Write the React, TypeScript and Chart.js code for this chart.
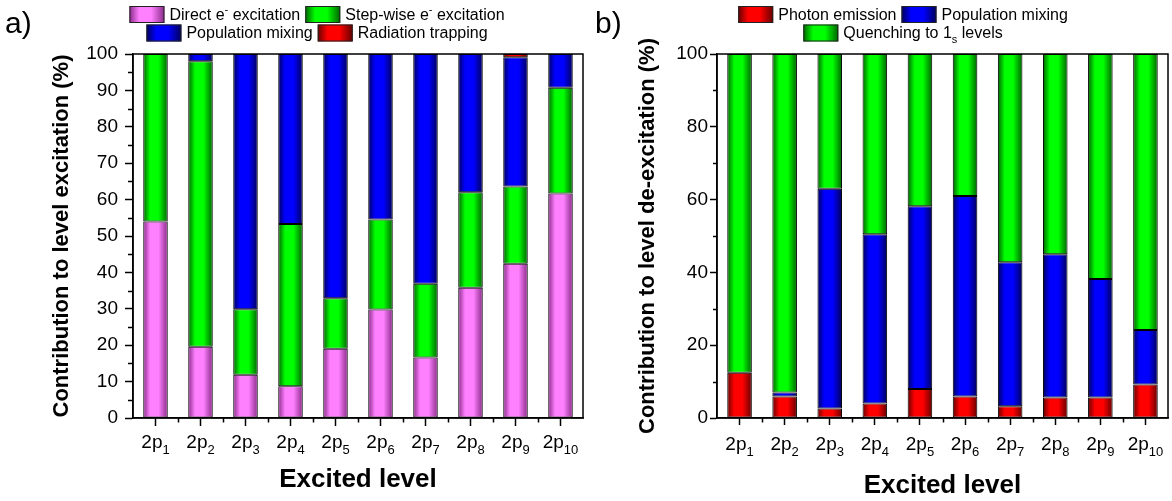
import React, { useEffect, useRef } from 'react';
import { Chart, registerables } from 'chart.js';

Chart.register(...registerables);

const FONT = '"Liberation Sans", Arial, sans-serif';

// ---------- data ----------
const categories = ['2p₁', '2p₂', '2p₃', '2p₄', '2p₅', '2p₆', '2p₇', '2p₈', '2p₉', '2p₁₀'];

// panel a) contribution to level excitation (%)
const directExc = [54.0, 19.6, 11.9, 8.7, 19.0, 29.8, 16.6, 35.8, 42.4, 61.7];
const stepwiseExc = [46.0, 78.4, 18.0, 44.6, 13.9, 24.7, 20.3, 26.2, 21.2, 29.0];
const popMixingA = [0, 2.0, 70.1, 46.7, 67.1, 45.5, 63.1, 38.0, 35.5, 9.3];
const radTrapping = [0, 0, 0, 0, 0, 0, 0, 0, 0.9, 0];

// panel b) contribution to level de-excitation (%)
const photonEmission = [12.4, 5.9, 2.6, 4.0, 8.0, 5.9, 3.2, 5.6, 5.6, 9.2];
const popMixingB = [0, 1.1, 60.4, 46.5, 50.2, 55.1, 39.6, 39.4, 32.6, 15.0];
const quenching = [87.6, 93.0, 37.0, 49.5, 41.8, 39.0, 57.2, 55.0, 61.8, 75.8];

const labelsA = ['Direct e⁻ excitation', 'Step-wise e⁻ excitation', 'Population mixing', 'Radiation trapping'];
const labelsB = ['Photon emission', 'Population mixing', 'Quenching to 1ₛ levels'];

const titleYA = 'Contribution to level excitation (%)';
const titleYB = 'Contribution to level de-excitation (%)';
const titleX = 'Excited level';

// ---------- styles ----------
const PINK = { dark: '#8a2a8a', bright: '#ff80ff' };
const GREEN = { dark: '#006400', bright: '#00ff00' };
const BLUE = { dark: '#00005a', bright: '#0000ff' };
const RED = { dark: '#640000', bright: '#ff0000' };
const BAR_FRACTION = 0.545;

const SUB: Record<string, string> = {
  '₀': '0', '₁': '1', '₂': '2', '₃': '3', '₄': '4', '₅': '5', '₆': '6', '₇': '7', '₈': '8', '₉': '9', 'ₛ': 's',
};
const SUP: Record<string, string> = { '⁻': '-' };

type Part = { kind: 'n' | 'sub' | 'sup'; t: string; w?: number };

function splitRich(text: string): Part[] {
  const parts: Part[] = [];
  let cur: Part | null = null;
  for (const ch of Array.from(text)) {
    const kind: Part['kind'] = SUB[ch] ? 'sub' : SUP[ch] ? 'sup' : 'n';
    const c = SUB[ch] || SUP[ch] || ch;
    if (cur && cur.kind === kind) cur.t += c;
    else {
      cur = { kind, t: c };
      parts.push(cur);
    }
  }
  return parts;
}

function richFont(kind: string, size: number, weight: string) {
  const s = kind === 'n' ? size : Math.round(size * 0.68);
  return `${weight} ${s}px ${FONT}`;
}

function measureRich(ctx: CanvasRenderingContext2D, text: string, size: number, weight = 'normal') {
  const parts = splitRich(text);
  let total = 0;
  for (const p of parts) {
    ctx.font = richFont(p.kind, size, weight);
    p.w = ctx.measureText(p.t).width;
    total += p.w;
  }
  return { parts, total };
}

function drawRich(
  ctx: CanvasRenderingContext2D,
  text: string,
  x: number,
  y: number,
  size: number,
  align: 'left' | 'center',
  weight = 'normal'
) {
  const { parts, total } = measureRich(ctx, text, size, weight);
  let cx = align === 'center' ? x - total / 2 : x;
  ctx.save();
  ctx.fillStyle = '#000';
  ctx.textAlign = 'left';
  ctx.textBaseline = 'alphabetic';
  for (const p of parts) {
    ctx.font = richFont(p.kind, size, weight);
    const dy = p.kind === 'sub' ? size * 0.3 : p.kind === 'sup' ? -size * 0.42 : 0;
    ctx.fillText(p.t, cx, y + dy);
    cx += p.w || 0;
  }
  ctx.restore();
  return total;
}

function hGradient(ctx: CanvasRenderingContext2D, x0: number, x1: number, dark: string, bright: string) {
  const g = ctx.createLinearGradient(x0, 0, x1, 0);
  g.addColorStop(0, dark);
  g.addColorStop(0.28, bright);
  g.addColorStop(0.62, bright);
  g.addColorStop(1, dark);
  return g;
}

function barFill(col: { dark: string; bright: string }) {
  return (c: any) => {
    const chart = c.chart;
    const xs = chart && chart.scales ? chart.scales.x : null;
    if (c.type !== 'data' || !xs || !xs.width) return col.bright;
    const cx = xs.getPixelForValue(c.dataIndex);
    const w = (xs.width / categories.length) * BAR_FRACTION;
    return hGradient(chart.ctx, cx - w / 2, cx + w / 2, col.dark, col.bright);
  };
}

type PanelSpec = {
  letter: string;
  series: { label: string; data: number[]; col: { dark: string; bright: string } }[];
  rows: number[][];
  yTitle: string;
  yStep: number;
  yMinorStep: number;
  yMinorLen: number;
  yTickLen: number;
  yTickPad: number;
  yWidth: number;
  padRight: number;
  xTickLen: number;
  xLabelBaseline: number;
  xTitlePadBottom: number;
  letterX: number;
};

const decorPlugin = {
  id: 'decor',
  afterDraw(chart: any) {
    const spec: PanelSpec = chart.options.plugins.decor.spec;
    const ctx: CanvasRenderingContext2D = chart.ctx;
    const area = chart.chartArea;
    const xs = chart.scales.x;
    const ys = chart.scales.y;
    ctx.save();
    // frame
    ctx.strokeStyle = '#000';
    ctx.lineWidth = 1.5;
    ctx.strokeRect(area.left, area.top, area.right - area.left, area.bottom - area.top);
    // minor ticks x
    ctx.lineWidth = 1.5;
    ctx.beginPath();
    for (let i = 0; i < categories.length - 1; i++) {
      const px = Math.round(xs.getPixelForValue(i + 0.5)) + 0.5;
      ctx.moveTo(px, area.bottom);
      ctx.lineTo(px, area.bottom + 4.5);
    }
    // minor ticks y
    for (let v = spec.yMinorStep; v < 100; v += spec.yStep) {
      const py = Math.round(ys.getPixelForValue(v)) + 0.5;
      ctx.moveTo(area.left, py);
      ctx.lineTo(area.left - spec.yMinorLen, py);
    }
    ctx.stroke();
    // x tick labels
    categories.forEach((lab, i) => {
      drawRich(ctx, lab, xs.getPixelForValue(i), spec.xLabelBaseline, 19, 'center');
    });
    // legend
    const rowY = [6, 24.5];
    const rowBase = [19.5, 38];
    const centerX = 317;
    spec.rows.forEach((row, r) => {
      const widths = row.map((k) => 35 + 5 + measureRich(ctx, spec.series[k].label, 16).total);
      const total = widths.reduce((a, b) => a + b, 0) + 5 * (row.length - 1);
      let x = centerX - total / 2;
      row.forEach((k, j) => {
        const s = spec.series[k];
        ctx.fillStyle = hGradient(ctx, x, x + 35, s.col.dark, s.col.bright);
        ctx.fillRect(x, rowY[r], 35, 17);
        ctx.lineWidth = 1;
        ctx.strokeStyle = '#222';
        ctx.strokeRect(x + 0.5, rowY[r] + 0.5, 34, 16);
        drawRich(ctx, s.label, x + 40, rowBase[r], 16, 'left');
        x += widths[j] + 5;
      });
    });
    // panel letter
    ctx.fillStyle = '#000';
    ctx.font = `30px ${FONT}`;
    ctx.textAlign = 'left';
    ctx.textBaseline = 'alphabetic';
    ctx.fillText(spec.letter, spec.letterX, 33);
    ctx.restore();
  },
};

function buildConfig(spec: PanelSpec): any {
  return {
    type: 'bar',
    data: {
      labels: categories,
      datasets: spec.series.map((s) => ({
        label: s.label,
        data: s.data,
        backgroundColor: barFill(s.col),
        borderColor: '#000',
        borderWidth: 1,
        borderSkipped: false,
        categoryPercentage: 1,
        barPercentage: BAR_FRACTION,
      })),
    },
    options: {
      responsive: false,
      animation: false,
      devicePixelRatio: 1,
      layout: { padding: { top: 54, right: spec.padRight, bottom: 0, left: 0 } },
      plugins: {
        legend: { display: false },
        tooltip: { enabled: false },
        decor: { spec },
      },
      scales: {
        x: {
          stacked: true,
          offset: true,
          afterFit: (s: any) => {
            s.height = 83;
          },
          grid: {
            offset: false,
            drawOnChartArea: false,
            drawTicks: true,
            tickLength: spec.xTickLen,
            tickWidth: 1.5,
            tickColor: '#000',
          },
          border: { display: true, color: '#000', width: 1.5 },
          ticks: { display: false },
          title: {
            display: true,
            text: titleX,
            color: '#000',
            font: { family: FONT, size: 26, weight: 'bold' },
            padding: { top: 0, bottom: spec.xTitlePadBottom },
          },
        },
        y: {
          stacked: true,
          min: 0,
          max: 100,
          afterFit: (s: any) => {
            s.width = spec.yWidth;
          },
          grid: {
            drawOnChartArea: false,
            drawTicks: true,
            tickLength: spec.yTickLen,
            tickWidth: 1.5,
            tickColor: '#000',
          },
          border: { display: true, color: '#000', width: 1.5 },
          ticks: {
            stepSize: spec.yStep,
            color: '#000',
            padding: spec.yTickPad,
            font: { family: FONT, size: 19 },
          },
          title: {
            display: true,
            text: spec.yTitle,
            color: '#000',
            font: { family: FONT, size: 22, weight: 'bold' },
            padding: { top: 49, bottom: 0 },
          },
        },
      },
    },
    plugins: [decorPlugin],
  };
}

const specA: PanelSpec = {
  letter: 'a)',
  series: [
    { label: labelsA[0], data: directExc, col: PINK },
    { label: labelsA[1], data: stepwiseExc, col: GREEN },
    { label: labelsA[2], data: popMixingA, col: BLUE },
    { label: labelsA[3], data: radTrapping, col: RED },
  ],
  rows: [
    [0, 1],
    [2, 3],
  ],
  yTitle: titleYA,
  yStep: 10,
  yMinorStep: 5,
  yMinorLen: 5,
  yTickLen: 8,
  yTickPad: 7,
  yWidth: 133,
  padRight: 3,
  xTickLen: 8,
  xLabelBaseline: 448,
  xTitlePadBottom: 6,
  letterX: 5,
};

const specB: PanelSpec = {
  letter: 'b)',
  series: [
    { label: labelsB[0], data: photonEmission, col: RED },
    { label: labelsB[1], data: popMixingB, col: BLUE },
    { label: labelsB[2], data: quenching, col: GREEN },
  ],
  rows: [[0, 1], [2]],
  yTitle: titleYB,
  yStep: 20,
  yMinorStep: 10,
  yMinorLen: 4,
  yTickLen: 7,
  yTickPad: 2,
  yWidth: 131,
  padRight: 4,
  xTickLen: 7,
  xLabelBaseline: 450,
  xTitlePadBottom: 0,
  letterX: 9,
};

export default function App() {
  const refA = useRef<HTMLCanvasElement>(null);
  const refB = useRef<HTMLCanvasElement>(null);

  useEffect(() => {
    Chart.defaults.font.family = FONT;
    const a = new Chart(refA.current as HTMLCanvasElement, buildConfig(specA));
    const b = new Chart(refB.current as HTMLCanvasElement, buildConfig(specB));
    return () => {
      a.destroy();
      b.destroy();
    };
  }, []);

  return (
    <div style={{ position: 'fixed', left: 0, top: 0, width: 1172, height: 501, background: '#fff' }}>
      <canvas ref={refA} width={586} height={501} style={{ position: 'absolute', left: 0, top: 0 }} />
      <canvas ref={refB} width={586} height={501} style={{ position: 'absolute', left: 586, top: 0 }} />
    </div>
  );
}
